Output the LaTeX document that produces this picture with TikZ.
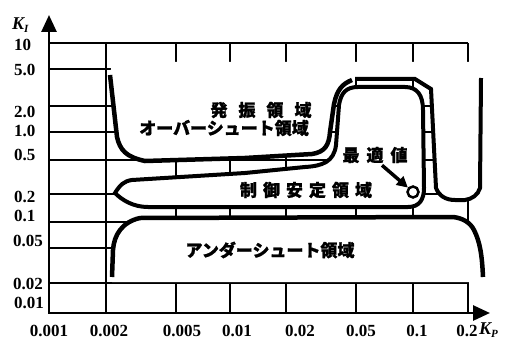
\documentclass[tikz,border=0pt]{standalone}
\usepackage{fontspec}
\setmainfont{Liberation Serif}
\newfontfamily\jpfont{Noto Sans CJK JP}[BoldFeatures={FakeBold=1.2}]
\usetikzlibrary{arrows.meta}
\begin{document}
\begin{tikzpicture}[x=1pt,y=-1pt,
  gridline/.style={line width=2pt},
  axisline/.style={line width=2.8pt, line join=miter},
  bndthick/.style={line width=4.5pt},
  bndmid/.style={line width=4pt},
  ticklab/.style={font=\fontsize{17}{17}\selectfont\bfseries, inner sep=0pt},
  axlab/.style={font=\fontsize{18}{18}\selectfont\bfseries\itshape, inner sep=0pt},
  jplab/.style={font=\jpfont\bfseries\fontsize{17}{17}\selectfont, inner sep=0pt}]
\useasboundingbox (0,0) rectangle (510,342);
% grid
\foreach \gy in {43,69,106,132,160,194,222,248,283} \draw[gridline] (49,\gy) -- (468,\gy);
\foreach \gx in {106,176,230,286,356,413,468} \draw[gridline] (\gx,43) -- (\gx,313);
% axes
\draw[axisline, {Triangle[length=17pt,width=15pt]}-{Triangle[length=17pt,width=15pt]}] (49,15) -- (49,313) -- (490,313);
% region fills
\fill[white] (112,62) -- (110,75) -- (117,137) .. controls (120,150) and (126,157) .. (145,161) -- (245,158) -- (312,154) .. controls (325,152) and (329,145) .. (330,132) -- (334,104) .. controls (337,90) and (342,84) .. (352,80) -- (355,79) -- (415,79) -- (431,89) -- (436,188) .. controls (439,196) and (446,200) .. (455,200) -- (465,200) .. controls (472,199) and (478,195) .. (480,188) -- (481,78) -- (481,62) -- cycle;
\fill[white] (112,282) -- (112,277) -- (113,250) .. controls (114,235) and (122,222) .. (140,218) -- (453,217) .. controls (462,218) and (470,222) .. (474,230) .. controls (480,242) and (482,255) .. (483,277) -- (483,282) -- cycle;
% boundaries
\draw[bndthick] (110,75) -- (117,137) .. controls (120,150) and (126,157) .. (145,161) -- (245,158) -- (312,154) .. controls (325,152) and (329,145) .. (330,132) -- (334,104) .. controls (337,90) and (342,84) .. (352,80);
\draw[bndmid] (355,79) -- (415,79) -- (431,89) -- (436,188) .. controls (439,196) and (446,200) .. (455,200) -- (465,200) .. controls (472,199) and (478,195) .. (480,188) -- (481,78);
\filldraw[bndmid, fill=white] (305,167) .. controls (322,166) and (334,162) .. (336,145) -- (339,105) .. controls (341,93) and (346,87) .. (358,87) -- (405,87) .. controls (417,87) and (423,95) .. (423,110) -- (424,188) .. controls (424,200) and (419,207) .. (408,207) -- (148,207) .. controls (133,207) and (122,200) .. (115,193) .. controls (120,185) and (124,181) .. (132,180) -- (245,173) -- cycle;
\draw[bndthick] (112,277) -- (113,250) .. controls (114,235) and (122,222) .. (140,218) -- (453,217) .. controls (462,218) and (470,222) .. (474,230) .. controls (480,242) and (482,255) .. (483,277);
% tick labels
\node[ticklab, anchor=west] (y10) at (14,45) {10};
\node[ticklab, anchor=west] (y5) at (14,70) {5.0};
\node[ticklab, anchor=west] (y2) at (14,112) {2.0};
\node[ticklab, anchor=west] (y1) at (14,131) {1.0};
\node[ticklab, anchor=west] (y05) at (14,155) {0.5};
\node[ticklab, anchor=west] (y02) at (14,197) {0.2};
\node[ticklab, anchor=west] (y01) at (14,216) {0.1};
\node[ticklab, anchor=west] (y005) at (13,241) {0.05};
\node[ticklab, anchor=west] (y002) at (13,284) {0.02};
\node[ticklab, anchor=west] (y001) at (14,303) {0.01};
\node[ticklab] (x0001) at (49,331) {0.001};
\node[ticklab] (x0002) at (109,331) {0.002};
\node[ticklab] (x0005) at (182,331) {0.005};
\node[ticklab] (x001) at (237,331) {0.01};
\node[ticklab] (x002) at (300,331) {0.02};
\node[ticklab] (x005) at (361,331) {0.05};
\node[ticklab] (x01) at (417,331) {0.1};
\node[ticklab] (x02) at (467,331) {0.2};
\node[axlab, anchor=west] (ki) at (12,25) {K\raisebox{-3pt}{\fontsize{11}{11}\selectfont I}};
\node[axlab, anchor=west] (kp) at (479,330) {K\raisebox{-3pt}{\fontsize{11}{11}\selectfont P}};
% region labels
\node[jplab] (osc) at (261,110) {発\hspace{11pt}振\hspace{11pt}領\hspace{11pt}域};
\node[jplab] (over) at (224,128) {オーバーシュート領域};
\node[jplab] (opt) at (375,155) {最\hspace{7pt}適\hspace{7pt}値};
\node[jplab] (stab) at (306,190) {制\hspace{6pt}御\hspace{6pt}安\hspace{6pt}定\hspace{6pt}領\hspace{6pt}域};
\node[jplab] (under) at (270,250) {アンダーシュート領域};
% optimum marker
\node[circle, draw, line width=2.5pt, fill=white, minimum size=11pt, inner sep=0pt] (optc) at (413,192) {};
\draw[line width=3.5pt, -{Triangle[length=11pt,width=11pt]}] ([xshift=7pt,yshift=-2pt]opt.south) -- (optc);
\end{tikzpicture}
\end{document}
